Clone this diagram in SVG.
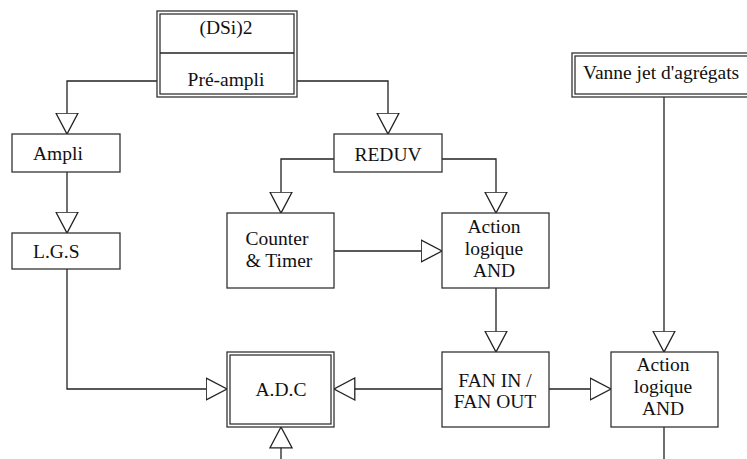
<svg xmlns="http://www.w3.org/2000/svg" width="747" height="459" viewBox="0 0 747 459">
<style>
.box{fill:#fff;stroke:#333;stroke-width:1.3}
.ln{fill:none;stroke:#222;stroke-width:1.3;marker-end:url(#tri)}
.pl{fill:none;stroke:#222;stroke-width:1.3}
text{font-family:"Liberation Serif","Times New Roman",serif;font-size:19.5px;fill:#111}
.c{text-anchor:middle}
</style>
<defs>
<marker id="tri" viewBox="0 0 23 24" refX="21.5" refY="12" markerWidth="23" markerHeight="24" markerUnits="userSpaceOnUse" orient="auto">
<path d="M0.7,1 L21.5,12 L0.7,23 Z" fill="#fff" stroke="#222" stroke-width="1.3"/>
</marker>
</defs>
<rect width="747" height="459" fill="#fff"/>
<g id="connectors">
<path class="ln" d="M157,81 H67 V134"/>
<path class="ln" d="M297,81 H388 V134"/>
<path class="ln" d="M67,172 V233"/>
<path class="ln" d="M67,269 V389 H227"/>
<path class="ln" d="M334,159 H281 V213"/>
<path class="ln" d="M442,159 H496 V213"/>
<path class="ln" d="M334,251 H442"/>
<path class="ln" d="M496,288 V352"/>
<path class="ln" d="M442,389 H334"/>
<path class="ln" d="M549,389 H611"/>
<path class="ln" d="M664,97 V352"/>
<path class="pl" d="M664,427 V459"/>
<path class="ln" d="M281,459 V427"/>
</g>
<g id="dsi">
<rect class="box" x="157" y="11" width="140" height="86"/>
<rect class="box" x="160" y="14" width="134" height="80"/>
<line class="pl" x1="160" y1="53" x2="294" y2="53"/>
<text class="c" x="226" y="34">(DSi)2</text>
<text class="c" x="226" y="86">Pré-ampli</text>
</g>
<g id="ampli">
<rect class="box" x="12" y="134" width="108" height="38"/>
<text x="33" y="160">Ampli</text>
</g>
<g id="lgs">
<rect class="box" x="12" y="233" width="108" height="36"/>
<text x="33" y="258">L.G.S</text>
</g>
<g id="reduv">
<rect class="box" x="334" y="134" width="108" height="38"/>
<text class="c" x="388" y="161">REDUV</text>
</g>
<g id="counter">
<rect class="box" x="227" y="213" width="107" height="75"/>
<text class="c" x="277" y="245">Counter</text>
<text class="c" x="279" y="267">&amp; Timer</text>
</g>
<g id="and1">
<rect class="box" x="442" y="213" width="107" height="75"/>
<text class="c" x="494" y="233">Action</text>
<text class="c" x="494" y="255">logique</text>
<text class="c" x="494" y="277">AND</text>
</g>
<g id="fan">
<rect class="box" x="442" y="352" width="107" height="75"/>
<text class="c" x="495" y="387">FAN IN /</text>
<text class="c" x="495" y="408">FAN OUT</text>
</g>
<g id="adc">
<rect class="box" x="227" y="352" width="107" height="75"/>
<rect class="box" x="230" y="355" width="101" height="69"/>
<text class="c" x="281" y="396">A.D.C</text>
</g>
<g id="and2">
<rect class="box" x="611" y="352" width="107" height="75"/>
<text class="c" x="663" y="371">Action</text>
<text class="c" x="663" y="393">logique</text>
<text class="c" x="663" y="415">AND</text>
</g>
<g id="vanne">
<rect class="box" x="572" y="53" width="180" height="44"/>
<rect class="box" x="575" y="56" width="174" height="38"/>
<text x="583" y="79">Vanne jet d'agrégats</text>
</g>
</svg>
